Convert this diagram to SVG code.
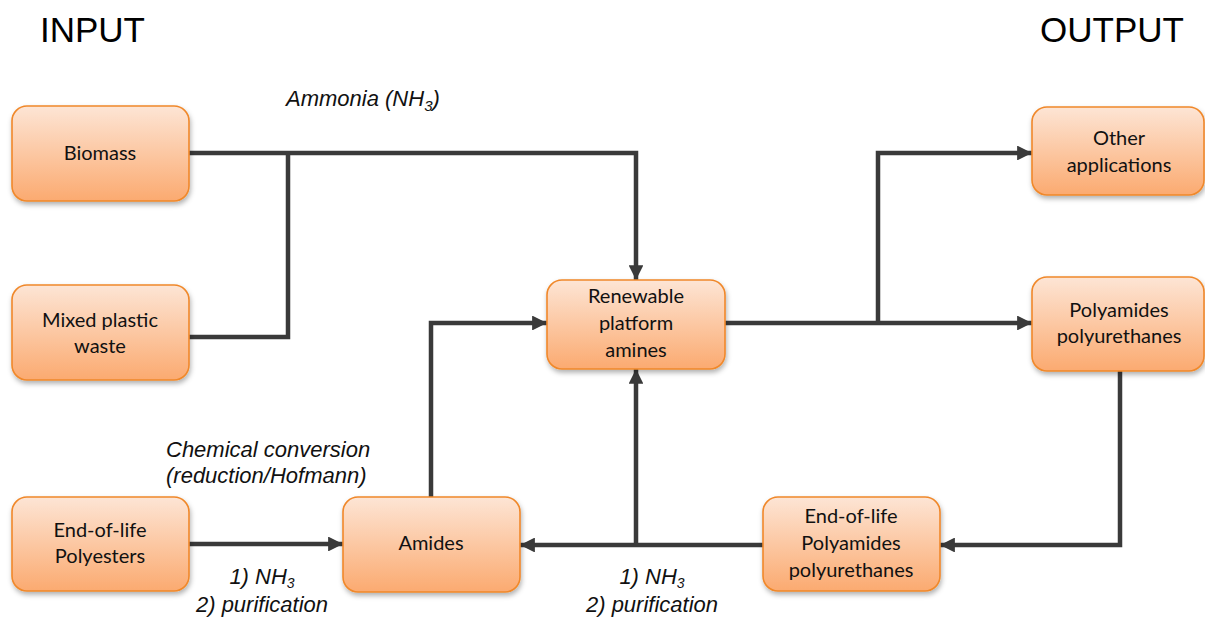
<svg xmlns="http://www.w3.org/2000/svg" width="1205" height="617" viewBox="0 0 1205 617">
<style>
.box{fill:url(#g);stroke:#f0882a;stroke-width:1.6;filter:url(#sh)}
.bt{font-family:Lato,"Open Sans",sans-serif;font-size:20px;fill:#111;text-anchor:middle}
.lbl{font-family:"Liberation Sans",Arial,sans-serif;font-size:22px;font-style:italic;fill:#111}
.ttl{font-family:"Liberation Sans",Arial,sans-serif;font-size:35px;fill:#000}
.c{fill:none;stroke:#3a3a3a;stroke-width:4.5;stroke-linejoin:miter}
.ca{fill:none;stroke:#3a3a3a;stroke-width:4.5;marker-end:url(#ah)}
</style>
<defs>
<linearGradient id="g" x1="0" y1="0" x2="0" y2="1">
<stop offset="0" stop-color="#fde5d5"/>
<stop offset="1" stop-color="#fbaa70"/>
</linearGradient>
<filter id="sh" x="-10%" y="-10%" width="125%" height="130%">
<feDropShadow dx="1" dy="3" stdDeviation="2.5" flood-color="#000" flood-opacity="0.3"/>
</filter>
<marker id="ah" viewBox="0 0 10 10" refX="10" refY="5" markerWidth="3.3" markerHeight="3.3" orient="auto" markerUnits="strokeWidth">
<path d="M0,0 L10,5 L0,10 Z" fill="#3a3a3a"/>
</marker>
</defs>
<text class="ttl" x="40" y="42">INPUT</text>
<text class="ttl" x="1040" y="42">OUTPUT</text>
<g id="connectors">
<path class="ca" d="M189,153 H636 V280"/>
<path class="c" d="M288,153 V337 H189"/>
<path class="ca" d="M431,497 V323 H547"/>
<path class="ca" d="M725,323 H1032"/>
<path class="ca" d="M878,323 V153 H1032"/>
<path class="ca" d="M1120,371 V545 H940"/>
<path class="ca" d="M763,545 H520"/>
<path class="ca" d="M636,545 V369"/>
<path class="ca" d="M189,544 H343"/>
</g>
<g id="labels">
<text class="lbl" x="286" y="106">Ammonia (NH<tspan font-size="15" dy="5">3</tspan><tspan dy="-5">)</tspan></text>
<text class="lbl" x="166" y="457">Chemical conversion</text>
<text class="lbl" x="166" y="483">(reduction/Hofmann)</text>
<text class="lbl" x="262" y="584" text-anchor="middle">1) NH<tspan font-size="14" dy="4">3</tspan></text>
<text class="lbl" x="262" y="612" text-anchor="middle">2) purification</text>
<text class="lbl" x="652" y="584" text-anchor="middle">1) NH<tspan font-size="14" dy="4">3</tspan></text>
<text class="lbl" x="652" y="612" text-anchor="middle">2) purification</text>
</g>
<g id="biomass"><rect class="box" x="12" y="106" width="177" height="95" rx="15"/><text class="bt" x="100" y="160">Biomass</text></g>
<g id="mixed-plastic"><rect class="box" x="12" y="285" width="177" height="95" rx="15"/><text class="bt" x="100" y="327">Mixed plastic</text><text class="bt" x="100" y="353">waste</text></g>
<g id="polyesters"><rect class="box" x="12" y="497" width="177" height="94" rx="15"/><text class="bt" x="100" y="537">End-of-life</text><text class="bt" x="100" y="563">Polyesters</text></g>
<g id="amides"><rect class="box" x="343" y="497" width="177" height="95" rx="15"/><text class="bt" x="431" y="550">Amides</text></g>
<g id="renewable"><rect class="box" x="547" y="280" width="178" height="89" rx="15"/><text class="bt" x="636" y="303">Renewable</text><text class="bt" x="636" y="330">platform</text><text class="bt" x="636" y="357">amines</text></g>
<g id="eol-polyamides"><rect class="box" x="763" y="497" width="177" height="94" rx="15"/><text class="bt" x="851" y="523">End-of-life</text><text class="bt" x="851" y="550">Polyamides</text><text class="bt" x="851" y="577">polyurethanes</text></g>
<g id="other"><rect class="box" x="1032" y="107" width="172" height="88" rx="15"/><text class="bt" x="1119" y="145">Other</text><text class="bt" x="1119" y="172">applications</text></g>
<g id="polyamides"><rect class="box" x="1032" y="277" width="172" height="94" rx="15"/><text class="bt" x="1119" y="317">Polyamides</text><text class="bt" x="1119" y="343">polyurethanes</text></g>
</svg>
